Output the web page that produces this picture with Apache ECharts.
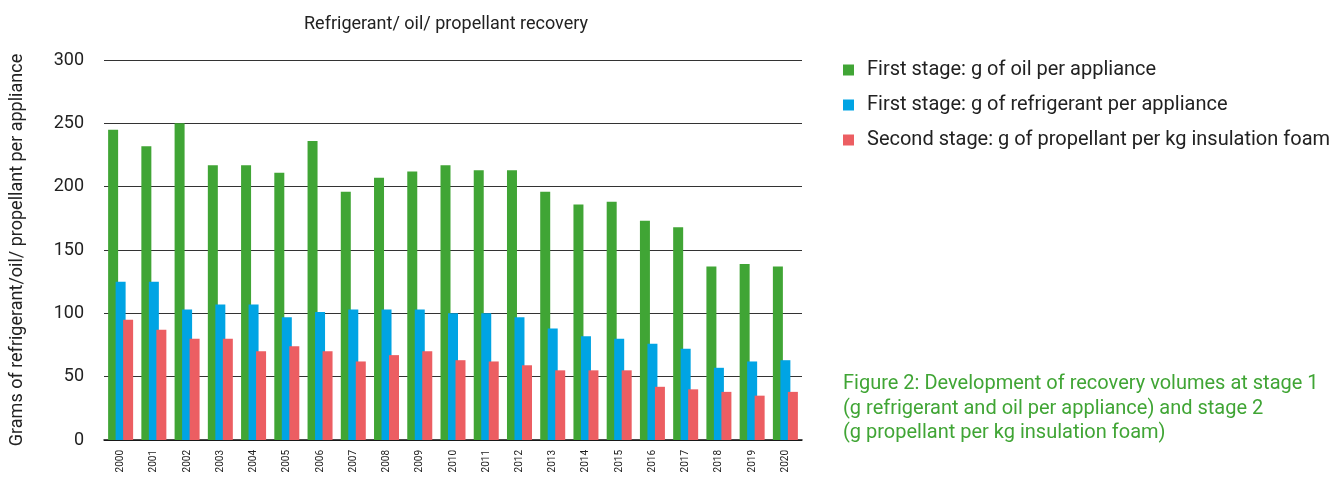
<!DOCTYPE html>
<html>
<head>
<meta charset="utf-8">
<script src="https://cdn.jsdelivr.net/npm/echarts@6/dist/echarts.min.js"></script>
<style>
html,body{margin:0;padding:0;background:#fff;}
#c{width:1344px;height:477px;}
</style>
</head>
<body>
<div id="c"></div>
<script>
var years = ['2000','2001','2002','2003','2004','2005','2006','2007','2008','2009','2010','2011','2012','2013','2014','2015','2016','2017','2018','2019','2020'];
var oil = [245,232,250,217,217,211,236,196,207,212,217,213,213,196,186,188,173,168,137,139,137];
var refrigerant = [125,125,103,107,107,97,101,103,103,103,100,100,97,88,82,80,76,72,57,62,63];
var propellant = [95,87,80,80,70,74,70,62,67,70,63,62,59,55,55,55,42,40,38,35,38];
var seriesNames = ['First stage: g of oil per appliance','First stage: g of refrigerant per appliance','Second stage: g of propellant per kg insulation foam'];
var colors = ['#40a535','#00a4e4','#ec5e62'];
var yTicks = [0,50,100,150,200,250,300];

var chart = echarts.init(document.getElementById('c'));
var font = 'Roboto';
function bar(name, data, color){
  return {name:name,type:'bar',data:data,barWidth:10,barGap:'-25%',itemStyle:{color:color},emphasis:{disabled:true}};
}
chart.setOption({
  animation:false,
  textStyle:{fontFamily:font},
  title:{text:'Refrigerant/ oil/ propellant recovery',left:441,top:10,textAlign:'center',
    textStyle:{fontFamily:font,fontSize:18,fontWeight:'normal',color:'#222'}},
  legend:{orient:'vertical',left:838,top:55,itemWidth:11,itemHeight:11,itemGap:15,icon:'rect',
    textStyle:{fontFamily:font,fontSize:20,color:'#222',padding:[0,0,0,8]},
    data:seriesNames},
  grid:{left:104,right:542,top:60,bottom:37,containLabel:false},
  xAxis:{type:'category',data:years,
    axisLine:{show:true,lineStyle:{color:'#111',width:1.5}},axisTick:{show:false},
    axisLabel:{rotate:90,fontSize:10,color:'#222',margin:10,interval:0,fontFamily:font}},
  yAxis:{type:'value',min:yTicks[0],max:yTicks[yTicks.length-1],interval:50,
    name:'Grams of refrigerant/oil/ propellant per appliance',nameLocation:'middle',nameGap:78,
    nameTextStyle:{fontFamily:font,fontSize:18,color:'#222'},
    axisLine:{show:false},axisTick:{show:false},
    axisLabel:{fontSize:18,color:'#222',margin:20,fontFamily:font},
    splitLine:{lineStyle:{color:'#333',width:1.2}}},
  graphic:[{type:'text',left:843,top:372,style:{
    text:'Figure 2: Development of recovery volumes at stage 1\n(g refrigerant and oil per appliance) and stage 2\n(g propellant per kg insulation foam)',
    fill:'#40a535',font:'20px Roboto',lineHeight:24.5}}],
  series:[bar(seriesNames[0],oil,colors[0]),bar(seriesNames[1],refrigerant,colors[1]),bar(seriesNames[2],propellant,colors[2])]
});
</script>
</body>
</html>
